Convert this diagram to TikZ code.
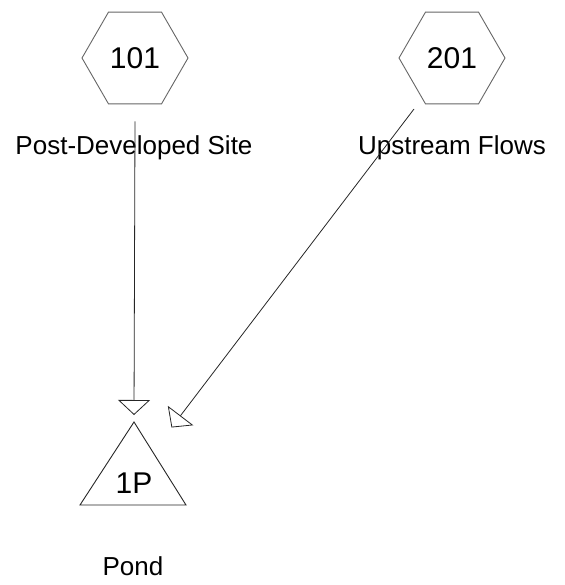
\documentclass[tikz,border=0pt]{standalone}
\usepackage{fontspec}
\setmainfont{Liberation Sans}
\usepackage{tikz}
\usetikzlibrary{shapes.geometric, arrows.meta, positioning}
\tikzstyle{subcuenca} = [draw=gray!80!black, line width=0.9pt, regular polygon, regular polygon sides=6, minimum size=106pt, inner sep=0pt, font=\fontsize{30}{32}\selectfont]
\tikzstyle{etiqueta} = [anchor=base, inner sep=0pt, font=\fontsize{26}{30}\selectfont]
\tikzstyle{flujo} = [draw=black!85, line width=0.8pt, -{Triangle[open, length=15pt, width=32pt]}]

\begin{document}
\begin{tikzpicture}[x=1pt, y=-1pt]
	\useasboundingbox (0,0) rectangle (564,585);
	\node [subcuenca] (s101) at (135,58) {101};
	\node [subcuenca] (s201) at (452,58) {201};
	\node [etiqueta] (l101) at (134,155) {Post-Developed Site};
	\node [etiqueta] (l201) at (452,155) {Upstream Flows};
	\draw [draw=black!85, line width=0.9pt] (80,505) -- (134,422) -- (186,505) -- cycle;
	\node [inner sep=0pt, anchor=base, font=\fontsize{30}{32}\selectfont] (p1) at (134,493) {1P};
	\node [etiqueta] (lp1) at (133,575) {Pond};
	\coordinate (in1) at (134,415);
	\coordinate (in2) at (171.5,427.5);
	\draw [flujo] ([yshift=-17pt]s101.south) -- (in1);
	\draw [flujo] ([xshift=-38pt, yshift=-51pt]s201.center) -- (in2);
\end{tikzpicture}
\end{document}
